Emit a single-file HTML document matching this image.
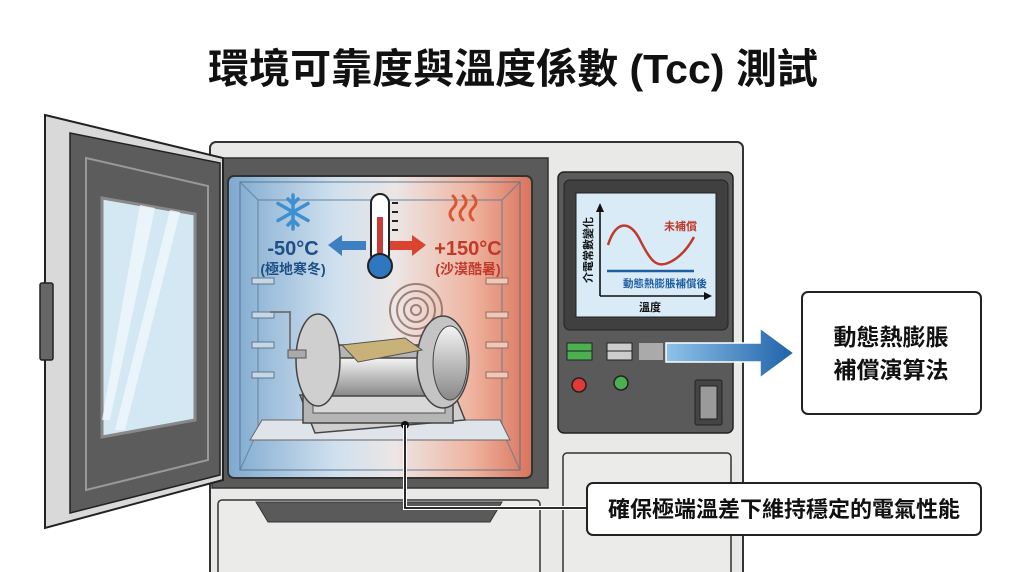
<!DOCTYPE html>
<html><head><meta charset="utf-8"><style>
html,body{margin:0;padding:0;background:#fff;}
svg{display:block;font-family:"Liberation Sans","Noto Sans CJK TC",sans-serif;}
</style></head><body>
<svg width="1024" height="572" viewBox="0 0 1024 572" xmlns="http://www.w3.org/2000/svg">
<defs>
<linearGradient id="ch" x1="0" x2="1" y1="0" y2="0">
<stop offset="0" stop-color="#7ea9cf"/><stop offset="0.35" stop-color="#cfe0ee"/><stop offset="0.55" stop-color="#ece6e6"/><stop offset="0.8" stop-color="#efb4a0"/><stop offset="1" stop-color="#d9735c"/></linearGradient>
<linearGradient id="ar" x1="0" x2="1"><stop offset="0" stop-color="#8ec3ea"/><stop offset="1" stop-color="#1f62a8"/></linearGradient>
<linearGradient id="cyl" x1="0" x2="0" y1="0" y2="1"><stop offset="0" stop-color="#f4f4f4"/><stop offset="0.5" stop-color="#bdbdbd"/><stop offset="1" stop-color="#888"/></linearGradient>
</defs>
<text x="513" y="83" text-anchor="middle" font-size="41" font-weight="bold" fill="#111">環境可靠度與溫度係數 (Tcc) 測試</text>

<!-- cabinet body -->
<rect x="210" y="142" width="533" height="440" rx="6" fill="#e9e9e7" stroke="#333" stroke-width="2"/>
<rect x="212" y="158" width="336" height="330" fill="#5a5a5a" stroke="#333" stroke-width="1.5"/>
<rect x="228" y="176" width="304" height="302" rx="6" fill="url(#ch)" stroke="#333" stroke-width="2"/>
<rect x="240" y="182" width="280" height="288" fill="none" stroke="#4d6b85" stroke-width="1.2" opacity="0.7"/>
<g stroke="#587a95" stroke-width="1.2" fill="none" opacity="0.7">
<polyline points="240,182 258,200 258,430 240,470"/><polyline points="520,182 502,200 502,430 520,470"/>
<line x1="258" y1="200" x2="502" y2="200"/>
</g>
<g fill="#c8d7e3" stroke="#5a7890" stroke-width="1">
<rect x="252" y="278" width="22" height="6"/><rect x="252" y="312" width="22" height="6"/><rect x="252" y="342" width="22" height="6"/><rect x="252" y="372" width="22" height="6"/>
</g>
<g fill="#f0c8b8" stroke="#9a6a5a" stroke-width="1">
<rect x="486" y="278" width="22" height="6"/><rect x="486" y="312" width="22" height="6"/><rect x="486" y="342" width="22" height="6"/><rect x="486" y="372" width="22" height="6"/>
</g>
<polygon points="262,420 500,420 510,440 250,440" fill="#dfe4ea" stroke="#666" stroke-width="1"/>
<g fill="none" stroke="#8a6a5f" stroke-width="2" opacity="0.8">
<circle cx="416" cy="310" r="26"/><circle cx="416" cy="310" r="19"/><circle cx="416" cy="310" r="12"/><circle cx="416" cy="310" r="5"/>
</g>
<!-- machine -->
<polygon points="300,395 455,395 465,420 315,433" fill="#cfcfcf" stroke="#444" stroke-width="1.5"/>
<rect x="303" y="345" width="150" height="78" fill="#b5b5b5" stroke="#444" stroke-width="1.5"/>
<rect x="313" y="368" width="132" height="45" fill="#d8d8d8" stroke="#555"/>
<rect x="308" y="358" width="150" height="38" rx="15" fill="url(#cyl)" stroke="#444" stroke-width="1.5"/>
<ellipse cx="318" cy="360" rx="22" ry="46" fill="#cfcfcf" stroke="#444" stroke-width="1.5"/>
<ellipse cx="443" cy="362" rx="26" ry="46" fill="#c4c4c4" stroke="#444" stroke-width="1.5"/>
<ellipse cx="450" cy="363" rx="17" ry="37" fill="url(#cyl)" stroke="#444" stroke-width="1"/>
<polygon points="342,345 405,338 422,350 358,362" fill="#c9b27a" stroke="#555" stroke-width="1"/>
<rect x="288" y="350" width="18" height="8" fill="#aaa" stroke="#555"/>
<polyline points="270,312 290,312 290,350" fill="none" stroke="#777" stroke-width="2"/>
<!-- snowflake -->
<g stroke="#3d8fd0" stroke-width="3.5" stroke-linecap="round" transform="translate(293,212)">
<line x1="0" y1="-17" x2="0" y2="17"/><line x1="-15" y1="-8.5" x2="15" y2="8.5"/><line x1="-15" y1="8.5" x2="15" y2="-8.5"/>
<path d="M-5,-13 L0,-8 L5,-13 M-5,13 L0,8 L5,13" fill="none"/>
</g>
<text x="293" y="255" text-anchor="middle" font-size="20" font-weight="bold" fill="#1e4f86">-50°C</text>
<text x="293" y="274" text-anchor="middle" font-size="14" font-weight="bold" fill="#1e4f86">(極地寒冬)</text>
<g stroke="#d9572f" stroke-width="3" fill="none" stroke-linecap="round">
<path d="M453,220 q-6,-6 0,-12 q6,-6 0,-12"/><path d="M463,220 q-6,-6 0,-12 q6,-6 0,-12"/><path d="M473,220 q-6,-6 0,-12 q6,-6 0,-12"/>
</g>
<text x="468" y="255" text-anchor="middle" font-size="20" font-weight="bold" fill="#c0392b">+150°C</text>
<text x="468" y="274" text-anchor="middle" font-size="14" font-weight="bold" fill="#c0392b">(沙漠酷暑)</text>
<polygon points="328,245 342,235 342,241 366,241 366,250 342,250 342,256" fill="#3d7fc0"/>
<polygon points="426,245 412,235 412,241 390,241 390,250 412,250 412,256" fill="#d9432f"/>
<rect x="371" y="194" width="18" height="70" rx="9" fill="#fff" stroke="#222" stroke-width="2"/>
<rect x="377" y="217" width="6" height="45" fill="#c93a3a"/>
<circle cx="380" cy="266" r="12" fill="#2f77c0" stroke="#222" stroke-width="2"/>
<g stroke="#222" stroke-width="2"><line x1="392" y1="203" x2="398" y2="203"/><line x1="392" y1="212" x2="398" y2="212"/><line x1="392" y1="221" x2="398" y2="221"/><line x1="392" y1="230" x2="398" y2="230"/></g>

<rect x="218" y="500" width="322" height="80" rx="4" fill="#ebebea" stroke="#333" stroke-width="1.5"/>
<polygon points="256,502 502,502 490,522 268,522" fill="#5a5a5a" stroke="#333"/>
<rect x="563" y="453" width="168" height="125" rx="4" fill="#ebebea" stroke="#333" stroke-width="1.5"/>

<!-- door -->
<polygon points="45,115 223,158 223,480 45,528" fill="#d9d9d9" stroke="#222" stroke-width="2"/>
<polygon points="70,133 220,163 220,475 70,513" fill="#5c5c5c" stroke="#222" stroke-width="1.5"/>
<polygon points="86,158 208,186 208,460 86,490" fill="none" stroke="#999" stroke-width="2"/>
<polygon points="102,198 195,214 195,420 102,437" fill="#d4e8f4" stroke="#888" stroke-width="3"/>
<polygon points="140,205 155,208 110,420 102,420" fill="#eef7fc" opacity="0.8"/>
<polygon points="170,210 180,212 125,430 115,430" fill="#eef7fc" opacity="0.8"/>
<rect x="40" y="283" width="13" height="77" rx="2" fill="#666" stroke="#222" stroke-width="1.5"/>

<!-- control panel -->
<rect x="558" y="172" width="175" height="261" rx="6" fill="#5a5a5a" stroke="#222" stroke-width="1.5"/>
<rect x="564" y="180" width="164" height="150" rx="6" fill="#404040" stroke="#222"/>
<rect x="576" y="193" width="140" height="124" fill="#d9ebf6" stroke="#222"/>
<g stroke="#111" stroke-width="1.6"><line x1="600" y1="296" x2="600" y2="210"/><line x1="600" y1="296" x2="706" y2="296"/></g>
<polygon points="600,203 596,212 604,212" fill="#111"/><polygon points="712,296 704,292 704,300" fill="#111"/>
<path d="M608,245 C616,220 630,220 640,240 S656,268 668,263 S688,248 694,237" fill="none" stroke="#c0392b" stroke-width="2.5"/>
<line x1="607" y1="271" x2="694" y2="271" stroke="#1f5ea0" stroke-width="2.5"/>
<text x="697" y="230" text-anchor="end" font-size="11" font-weight="bold" fill="#c0392b">未補償</text>
<text x="665" y="287" text-anchor="middle" font-size="10.5" font-weight="bold" fill="#1f5ea0">動態熱膨脹補償後</text>
<text x="650" y="311" text-anchor="middle" font-size="11" font-weight="bold" fill="#111">溫度</text>
<text transform="translate(592,250) rotate(-90)" text-anchor="middle" font-size="11" font-weight="bold" fill="#111">介電常數變化</text>
<rect x="567" y="343" width="25" height="17" fill="#4caf50" stroke="#222"/><line x1="567" y1="351" x2="592" y2="351" stroke="#222"/>
<rect x="607" y="343" width="25" height="17" fill="#ccc" stroke="#222"/><line x1="607" y1="351" x2="632" y2="351" stroke="#222"/>
<rect x="639" y="343" width="24" height="17" fill="#aaa"/>
<circle cx="579" cy="385" r="7" fill="#e53935" stroke="#222" stroke-width="1.5"/>
<circle cx="621" cy="383" r="7" fill="#4caf50" stroke="#222" stroke-width="1.5"/>
<rect x="695" y="380" width="27" height="45" rx="2" fill="#444" stroke="#222"/><rect x="700" y="386" width="17" height="33" fill="#9a9a9a" stroke="#222"/>

<polygon points="666,343 760,343 760,328 794,353 760,378 760,362 666,362" fill="url(#ar)" stroke="#fff" stroke-width="1.5"/>
<rect x="802" y="292" width="179" height="122" rx="6" fill="#fff" stroke="#222" stroke-width="2"/>
<text x="891" y="345" text-anchor="middle" font-size="23" font-weight="bold" fill="#111">動態熱膨脹</text>
<text x="891" y="378" text-anchor="middle" font-size="23" font-weight="bold" fill="#111">補償演算法</text>

<circle cx="405" cy="425" r="4" fill="#111"/>
<polyline points="405,425 405,508 587,508" fill="none" stroke="#fff" stroke-width="4"/>
<polyline points="405,425 405,508 587,508" fill="none" stroke="#111" stroke-width="1.8"/>
<rect x="587" y="483" width="394" height="52" rx="6" fill="#fff" stroke="#222" stroke-width="2"/>
<text x="784" y="517" text-anchor="middle" font-size="22" font-weight="bold" fill="#111">確保極端溫差下維持穩定的電氣性能</text>
</svg>
</body></html>
